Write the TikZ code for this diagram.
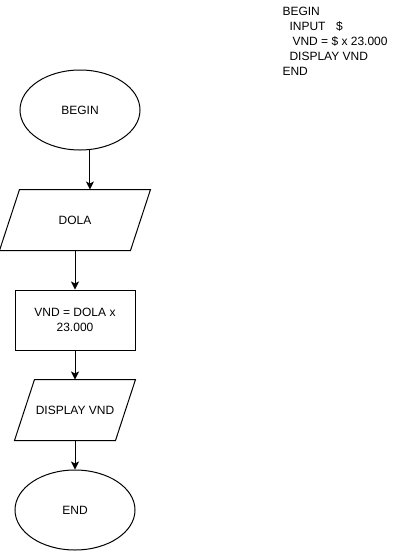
\documentclass[tikz,border=0pt]{standalone}
\usepackage{fontspec}
\setmainfont{Liberation Sans}
\usepackage{tikz}
\usetikzlibrary{arrows.meta, positioning, shapes.geometric}

\begin{document}
\begin{tikzpicture}[x=0.75pt,y=-0.75pt,on grid,line width=0.75pt,
    >={Stealth[length=6pt,width=6pt,inset=1.5pt]},
    font=\fontsize{9}{11.25}\selectfont]
    \tikzstyle{terminal}=[shape=ellipse,draw,minimum width=90pt,minimum height=60pt,inner sep=0pt]
    \tikzstyle{process}=[shape=rectangle,draw,minimum width=90pt,minimum height=45pt,align=center]
    \tikzstyle{io}=[shape=rectangle,minimum height=45pt,inner sep=0pt]
    \tikzstyle{slant}=[line join=miter]

    \useasboundingbox (0,0) rectangle (401,551);

    \node[terminal] (begin) at (80,110) {BEGIN};
    \node[io, minimum width=112.5pt, below left=82.5pt and 3.75pt of begin] (dola) {DOLA};
    \node[process, below=75pt of dola] (calc) {VND = DOLA x\\23.000};
    \node[io, minimum width=90pt, below=67.5pt of calc] (show) {DISPLAY VND};
    \node[terminal, below=75pt of show] (end) {END};

    % parallelograms
    \draw[slant] (dola.south west) -- ([xshift=-15pt]dola.south east) -- (dola.north east)
        -- ([xshift=15pt]dola.north west) -- cycle;
    \draw[slant] (show.south west) -- ([xshift=-15pt]show.south east) -- (show.north east)
        -- ([xshift=15pt]show.north west) -- cycle;

    % pseudo code
    \node[anchor=north west, align=left, inner sep=0pt] (pseudo) at (282,7)
        {BEGIN\\\hspace*{5.25pt}INPUT\hspace*{8pt}\$\\\hspace*{7.5pt}VND = \$ x 23.000\\\hspace*{5.25pt}DISPLAY VND\\END};

    \draw[->] (begin.-76) -- (begin.-76 |- dola.north);
    \draw[->] (dola) -- (calc);
    \draw[->] (calc) -- (show);
    \draw[->] (show) -- (end);
\end{tikzpicture}
\end{document}
